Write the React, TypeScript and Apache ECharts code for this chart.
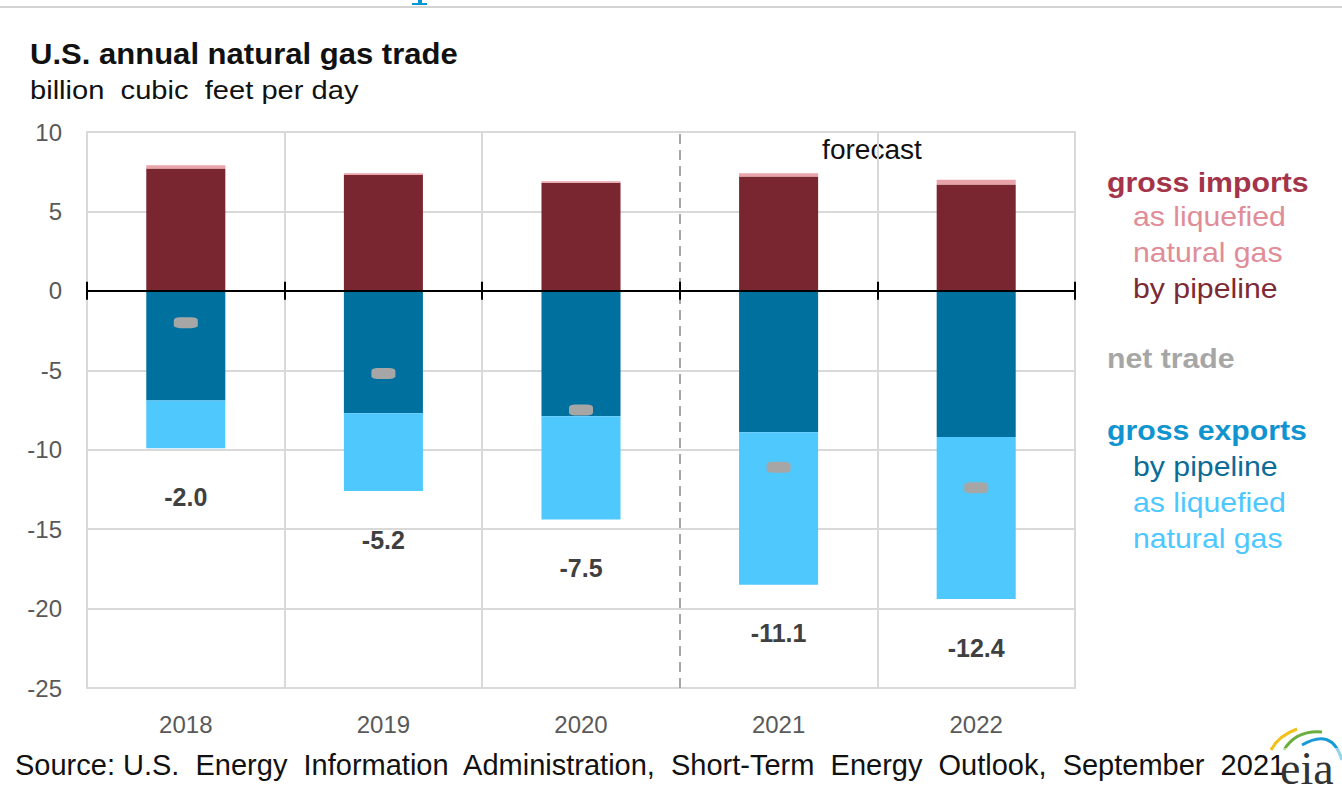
import React, { useEffect, useRef } from "react";
import * as echarts from "echarts";

const years = ["2018", "2019", "2020", "2021", "2022"];
const importsPipeline = [7.7, 7.3, 6.8, 7.2, 6.7];
const importsLng = [0.2, 0.1, 0.1, 0.2, 0.3];
const exportsPipeline = [6.9, 7.7, 7.9, 8.9, 9.2];
const exportsLng = [3.0, 4.9, 6.5, 9.6, 10.2];
const netTrade = [-2.0, -5.2, -7.5, -11.1, -12.4];
const yMin = -25;
const yMax = 10;
const yStep = 5;
const forecastStartIndex = 3;

const FONT = "Liberation Sans, Arial, sans-serif";

export default function App() {
  const ref = useRef<HTMLDivElement>(null);

  useEffect(() => {
    document.body.style.margin = "0";
    const chart = echarts.init(ref.current!, null, { renderer: "svg" });
    const gridLine = "#d9d9d9";
    const splitColors = years.map((_, i) => (i === forecastStartIndex ? "rgba(0,0,0,0)" : gridLine));
    splitColors.push(gridLine);

    const legendItems = [
      { text: "gross imports", x: 1107, y: 182, color: "#a3344a", bold: true },
      { text: "as liquefied", x: 1133, y: 216, color: "#e08d98", bold: false },
      { text: "natural gas", x: 1133, y: 252, color: "#e08d98", bold: false },
      { text: "by pipeline", x: 1133, y: 288, color: "#7b2a36", bold: false },
      { text: "net trade", x: 1107, y: 358, color: "#a6a6a6", bold: true },
      { text: "gross exports", x: 1107, y: 430, color: "#0f94cf", bold: true },
      { text: "by pipeline", x: 1133, y: 466, color: "#0b6c98", bold: false },
      { text: "as liquefied", x: 1133, y: 502, color: "#4dc8ff", bold: false },
      { text: "natural gas", x: 1133, y: 538, color: "#4dc8ff", bold: false },
    ];

    const zeroAxis = (position: string, yIndex: number) => ({
      type: "category",
      data: years,
      position,
      axisLine: { show: true, onZero: true, onZeroAxisIndex: yIndex, lineStyle: { color: "#000", width: 2 } },
      axisTick: { show: true, length: 9, lineStyle: { color: "#000", width: 2 } },
      axisLabel: { show: false },
      splitLine: { show: false },
      z: 10,
    });

    const option: any = {
      animation: false,
      backgroundColor: "#ffffff",
      textStyle: { fontFamily: FONT },
      grid: {
        left: 87,
        right: 267,
        top: 132,
        bottom: 117,
        show: true,
        borderColor: gridLine,
        borderWidth: 2,
        containLabel: false,
      },
      xAxis: [
        {
          type: "category",
          data: years,
          position: "bottom",
          axisLine: { show: false, onZero: false },
          axisTick: { show: false },
          axisLabel: { fontSize: 24, color: "#595959", margin: 24, fontFamily: FONT },
          splitLine: { show: true, lineStyle: { color: splitColors, width: 2 } },
        },
        zeroAxis("bottom", 0),
        zeroAxis("top", 1),
        {
          type: "value",
          min: 0,
          max: years.length,
          show: false,
        },
      ],
      yAxis: [
        {
          type: "value",
          min: yMin,
          max: yMax,
          interval: yStep,
          axisLine: { show: false },
          axisTick: { show: false },
          axisLabel: { fontSize: 24, color: "#595959", margin: 25, fontFamily: FONT },
          splitLine: { show: true, lineStyle: { color: gridLine, width: 2 } },
        },
        {
          type: "value",
          min: yMin,
          max: yMax,
          interval: yStep,
          position: "right",
          axisLine: { show: false },
          axisTick: { show: false },
          axisLabel: { show: false },
          splitLine: { show: false },
        },
      ],
      series: [
        {
          name: "imports by pipeline",
          type: "bar",
          stack: "trade",
          xAxisIndex: 0,
          barWidth: "40%",
          data: importsPipeline,
          itemStyle: { color: "#7a2631" },
        },
        {
          name: "imports as LNG",
          type: "bar",
          stack: "trade",
          xAxisIndex: 0,
          barWidth: "40%",
          data: importsLng,
          itemStyle: { color: "#e9a3aa" },
        },
        {
          name: "exports by pipeline",
          type: "bar",
          stack: "trade",
          xAxisIndex: 0,
          barWidth: "40%",
          data: exportsPipeline.map((v) => -v),
          itemStyle: { color: "#00709e" },
        },
        {
          name: "exports as LNG",
          type: "bar",
          stack: "trade",
          xAxisIndex: 0,
          barWidth: "40%",
          data: exportsLng.map((v) => -v),
          itemStyle: { color: "#4fc8fe" },
          label: {
            show: true,
            position: "bottom",
            distance: 36,
            fontSize: 25,
            fontWeight: "bold",
            color: "#404040",
            fontFamily: FONT,
            formatter: (p: any) => netTrade[p.dataIndex].toFixed(1),
          },
        },
        {
          name: "net trade",
          type: "scatter",
          xAxisIndex: 0,
          data: netTrade,
          symbol: "roundRect",
          symbolSize: [24, 11],
          itemStyle: { color: "#a6a6a6", opacity: 1 },
          z: 5,
        },
        {
          name: "forecast divider",
          type: "line",
          xAxisIndex: 3,
          data: [],
          markLine: {
            silent: true,
            symbol: "none",
            label: { show: false },
            lineStyle: { color: "#a6a6a6", type: [10, 6], width: 2 },
            data: [{ xAxis: forecastStartIndex }],
          },
        },
      ],
      graphic: [
        { type: "line", shape: { x1: 0, y1: 7, x2: 1342, y2: 7 }, style: { stroke: "#d4d4d4", lineWidth: 2 } },
        {
          type: "polygon",
          shape: { points: [[418, 0], [422, 0], [422, 3], [427, 3], [427, 5], [412, 5], [412, 3], [418, 3]] },
          style: { fill: "#0096d6" },
        },
        {
          type: "text",
          x: 30,
          y: 53,
          scaleX: 1.035,
          style: { text: "U.S. annual natural gas trade", font: `bold 30px ${FONT}`, fill: "#111", verticalAlign: "middle" },
        },
        {
          type: "text",
          x: 30,
          y: 90,
          scaleX: 1.12,
          style: { text: "billion  cubic  feet per day", font: `26px ${FONT}`, fill: "#111", verticalAlign: "middle" },
        },
        {
          type: "text",
          x: 872,
          y: 150,
          scaleX: 1.04,
          style: { text: "forecast", font: `27px ${FONT}`, fill: "#111", align: "center", verticalAlign: "middle" },
        },
        ...legendItems.map((l) => ({
          type: "text",
          x: l.x,
          y: l.y,
          scaleX: 1.08,
          style: {
            text: l.text,
            font: `${l.bold ? "bold " : ""}28px ${FONT}`,
            fill: l.color,
            verticalAlign: "middle",
          },
        })),
        {
          type: "text",
          x: 15,
          y: 765,
          style: {
            text: "Source: U.S.  Energy  Information  Administration,  Short-Term  Energy  Outlook,  September  2021",
            font: `29px ${FONT}`,
            fill: "#111",
            verticalAlign: "middle",
          },
        },
        {
          type: "bezierCurve",
          shape: { x1: 1271, y1: 750, cpx1: 1278, cpy1: 736, x2: 1297, y2: 729 },
          style: { stroke: "#f2c21b", lineWidth: 3, fill: null },
        },
        {
          type: "bezierCurve",
          shape: { x1: 1284, y1: 750, cpx1: 1296, cpy1: 730, x2: 1322, y2: 732 },
          style: { stroke: "#6aaf3d", lineWidth: 3, fill: null },
        },
        {
          type: "bezierCurve",
          shape: { x1: 1302, y1: 745, cpx1: 1332, cpy1: 727, x2: 1342, y2: 760 },
          style: { stroke: "#1a9ad6", lineWidth: 3, fill: null },
        },
        {
          type: "rect",
          shape: { x: 1282, y: 748, width: 60, height: 44 },
          style: { fill: "rgba(255,255,255,0.55)" },
        },
        {
          type: "text",
          x: 1280,
          y: 768,
          style: { text: "eia", font: `46px Liberation Serif, serif`, fill: "#333", verticalAlign: "middle" },
        },
      ],
    };

    chart.setOption(option);
    return () => chart.dispose();
  }, []);

  return <div ref={ref} style={{ width: 1342, height: 805 }} />;
}
